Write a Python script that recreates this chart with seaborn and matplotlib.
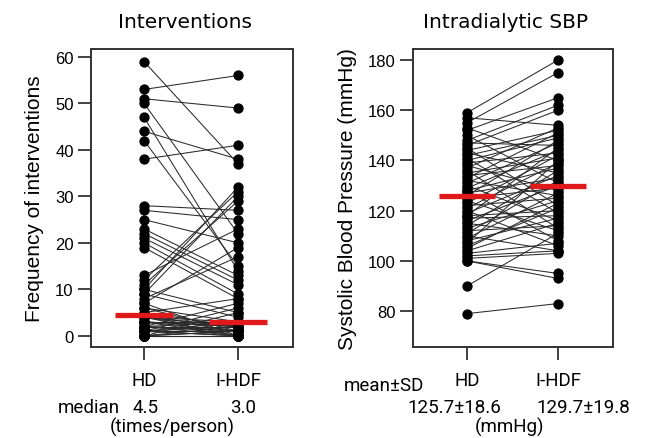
import numpy as np
import pandas as pd
import matplotlib
matplotlib.use("Agg")
import matplotlib.pyplot as plt
import seaborn as sns

# ---------------- data ----------------
groups = ["HD", "I-HDF"]

# Interventions (times/person), paired by patient
interv_hd = [59, 53, 51, 50, 47, 44, 42, 38, 28, 27, 25, 23, 22, 21, 20, 19, 13,
             10, 12, 9, 11, 7, 8,
             5, 5, 6, 6, 7, 9, 10,
             0, 0, 0, 0, 0, 0, 0, 0,
             1, 1, 1, 1, 1, 1,
             2, 2, 2, 2, 2, 2,
             3, 3, 3, 3, 3,
             4, 4, 4, 4, 4]
interv_ihdf = [37, 56, 49, 22, 14, 38, 15, 41, 27, 25, 20, 13, 12, 11, 9, 8, 23,
               32, 31, 30, 29, 19, 17,
               2, 8, 1, 3, 0, 4, 5,
               0, 1, 0, 2, 0, 5, 1, 0,
               0, 2, 1, 3, 0, 6,
               1, 0, 2, 7, 3, 1,
               0, 2, 1, 3, 2,
               0, 1, 2, 3, 2]
interv_median = [4.5, 3.0]

# Intradialytic systolic blood pressure (mmHg), paired by patient
sbp_hd = [159, 157, 155, 153, 152, 150, 148, 147, 146, 145,
          144, 143, 142, 141, 140, 139, 138, 137, 136, 135,
          134, 133, 132, 131, 130, 129, 128, 128, 127, 126,
          125, 124, 123, 122, 121, 120, 119, 118, 118, 117,
          116, 115, 114, 113, 112, 111, 110, 109, 108, 107,
          106, 105, 104, 103, 102, 101, 100, 100, 90, 79]
sbp_ihdf = [180, 154, 175, 140, 165, 131, 162, 146, 160, 122,
            152, 135, 150, 119, 149, 143, 128, 153, 113, 141,
            138, 151, 126, 147, 116, 144, 137, 108, 133, 148,
            129, 112, 142, 125, 139, 106, 134, 120, 145, 118,
            130, 110, 136, 124, 114, 132, 104, 127, 117, 140,
            121, 123, 115, 107, 104, 103, 95, 93, 111, 83]
sbp_mean = [125.7, 129.7]

median_text = ["4.5", "3.0"]
meansd_text = ["125.7\u00b118.6", "129.7\u00b119.8"]

# ---------------- helpers ----------------
def long_df(a, b):
    n = len(a)
    return pd.DataFrame({
        "pid": list(range(n)) * 2,
        "group": [groups[0]] * n + [groups[1]] * n,
        "x": [1] * n + [2] * n,
        "value": list(a) + list(b),
    })

sns.set_style("white")
plt.rcParams["font.family"] = ["Liberation Sans", "DejaVu Sans"]
plt.rcParams["text.color"] = "black"
plt.rcParams["axes.labelcolor"] = "black"
plt.rcParams["xtick.color"] = "black"
plt.rcParams["ytick.color"] = "black"

W, H = 646, 439
fig = plt.figure(figsize=(W / 100, H / 100), dpi=100)

def px_axes(l, t, r, b):
    return fig.add_axes([l / W, 1 - b / H, (r - l) / W, (b - t) / H])

ax1 = px_axes(91, 50, 293, 348)
ax2 = px_axes(413, 50, 613, 348)

NARROW = ["Roboto", "DejaVu Sans"]
NS = 13.5
LINE_C = "#2a2a2a"
RED = "#e01a1a"

def draw(ax, a, b, center, xlim, ylim, yticks):
    df = long_df(a, b)
    sns.lineplot(data=df, x="x", y="value", units="pid", estimator=None,
                 color=LINE_C, lw=0.75, ax=ax, legend=False, zorder=2)
    sns.scatterplot(data=df, x="x", y="value", color="black", s=55,
                    edgecolor="black", linewidth=0, ax=ax, legend=False, zorder=3)
    for pos, c in zip([1, 2], center):
        ax.hlines(c, pos - 0.31, pos + 0.31, color=RED, lw=3.8, zorder=4)
    ax.set_xlim(*xlim)
    ax.set_ylim(*ylim)
    ax.set_xticks([1, 2])
    ax.set_xticklabels(groups, fontsize=NS, family=NARROW)
    ax.set_yticks(yticks)
    ax.set_yticklabels([str(t) for t in yticks], fontsize=12)
    ax.set_xlabel("")
    ax.tick_params(axis="x", length=9, width=1.3, pad=8, color="#333333",
                   labelcolor="black", direction="out", bottom=True)
    ax.tick_params(axis="y", length=9.5, width=1.3, pad=3, color="#333333",
                   labelcolor="black", direction="out", left=True)
    for sp in ax.spines.values():
        sp.set_linewidth(1.4)
        sp.set_color("#333333")

draw(ax1, interv_hd, interv_ihdf, interv_median, (0.436, 2.585), (-2.4, 61.7),
     [0, 10, 20, 30, 40, 50, 60])
draw(ax2, sbp_hd, sbp_ihdf, sbp_mean, (0.407, 2.604), (65.7, 184.4),
     [80, 100, 120, 140, 160, 180])

ax1.set_ylabel("Frequency of interventions", fontsize=15, labelpad=8)
ax2.set_ylabel("Systolic Blood Pressure (mmHg)", fontsize=15, labelpad=8)

def ftxt(x, y, s, **kw):
    fig.text(x / W, 1 - y / H, s, color="black", **kw)

ftxt(185, 22, "Interventions", fontsize=14.5, family="DejaVu Sans", ha="center", va="center")
ftxt(506, 22, "Intradialytic SBP", fontsize=14.5, family="DejaVu Sans", ha="center", va="center")

ftxt(89, 408, "median", fontsize=NS, family=NARROW, ha="center", va="center")
ftxt(146, 408, median_text[0], fontsize=NS, family=NARROW, ha="center", va="center")
ftxt(243, 408, median_text[1], fontsize=NS, family=NARROW, ha="center", va="center")
ftxt(172, 427, "(times/person)", fontsize=NS, family=NARROW, ha="center", va="center")

ftxt(384, 386, "mean\u00b1SD", fontsize=NS, family=NARROW, ha="center", va="center")
ftxt(454, 408, meansd_text[0], fontsize=NS, family=NARROW, ha="center", va="center")
ftxt(583, 408, meansd_text[1], fontsize=NS, family=NARROW, ha="center", va="center")
ftxt(509, 427, "(mmHg)", fontsize=NS, family=NARROW, ha="center", va="center")

fig.savefig("out.png", dpi=100)
